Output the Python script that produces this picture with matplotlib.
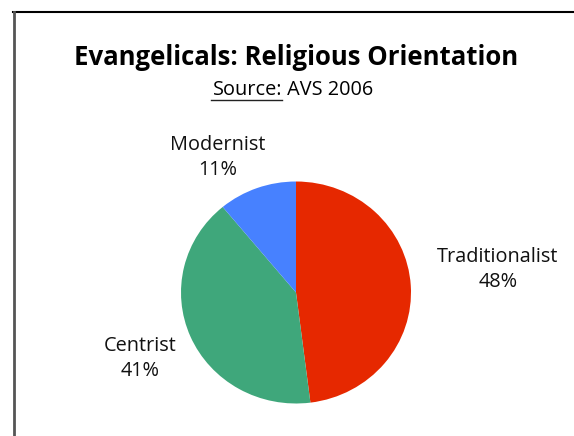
import matplotlib.pyplot as plt
import numpy as np

categories = ['Traditionalist', 'Centrist', 'Modernist']
shares = [48, 41, 11]
colors = ['#E62800', '#3FA77B', '#4781FF']
title = 'Evangelicals: Religious Orientation'

plt.rcParams['font.family'] = ['Open Sans', 'DejaVu Sans']

W, H = 574, 436
fig = plt.figure(figsize=(W / 100, H / 100), dpi=100)

# frame lines (the box is cropped on the right and bottom)
frame = fig.add_axes([0, 0, 1, 1])
frame.set_xlim(0, W)
frame.set_ylim(H, 0)
frame.axis('off')
frame.plot([13, W], [12.5, 12.5], color='black', lw=1.5)
frame.plot([13.5, 13.5], [12, H], color='#555555', lw=2)

# pie (slightly wider than tall, like the original)
cx, cy, rx, ry = 296, 292.5, 115, 111
ax = fig.add_axes([(cx - rx) / W, 1 - (cy + ry) / H, 2 * rx / W, 2 * ry / H])
ax.pie(shares, colors=colors, startangle=90, counterclock=False, radius=1,
       wedgeprops=dict(linewidth=0))
ax.set_xlim(-1, 1)
ax.set_ylim(-1, 1)
ax.set_aspect('auto')

# label positions in pixels (x centre, baseline of first line)
label_pos = [(498, 262), (140, 351), (218, 150)]
for name, val, (lx, ly) in zip(categories, shares, label_pos):
    frame.text(lx, ly, name, ha='center', va='baseline', fontsize=14.3,
               color='#111111')
    frame.text(lx, ly + 25, f'{val}%', ha='center', va='baseline',
               fontsize=14.3, color='#111111')

frame.text(296, 65, title, ha='center', va='baseline', fontsize=18.5,
           fontweight='bold', color='black')
frame.text(282, 95, 'Source:', ha='right', va='baseline', fontsize=14.3)
frame.text(282, 95, ' AVS 2006', ha='left', va='baseline', fontsize=14.3)
frame.plot([211, 282], [100, 100], color='#222222', lw=1)

fig.savefig('out.png', dpi=100)
